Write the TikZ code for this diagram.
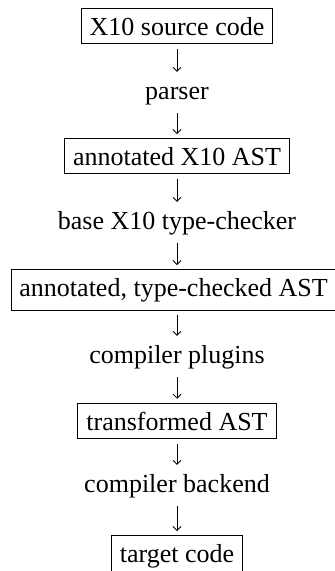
\documentclass[tikz,border=0pt]{standalone}
\usepackage{fontspec}
\setmainfont{Liberation Serif}
\usetikzlibrary{arrows.meta}
\begin{document}
\begin{tikzpicture}[x=1pt,y=1pt,
  stage/.style={draw, line width=0.9pt, inner sep=8.5pt,
    font=\fontsize{26}{30}\selectfont, anchor=base},
  pass/.style={inner sep=0pt, text height=18pt, text depth=6pt,
    font=\fontsize{26}{30}\selectfont, anchor=base},
  flow/.style={line width=0.75pt, -{Straight Barb[length=4pt,width=8pt]}},
  down/.style={flow, shorten <=4.5pt, shorten >=9pt},
  into/.style={flow, shorten <=8pt, shorten >=4pt}]
\useasboundingbox (0,0) rectangle (335,-571);
\clip (0,0) rectangle (335,-571);

% compilation stages (boxed) and the passes between them
\node[stage] (src)  at (177,-35)  {X10 source code};
\node[pass]  (parser) at (177,-99) {parser};
\node[stage] (ast)  at (177,-165) {annotated X10 AST};
\node[pass]  (tc)   at (177,-229) {base X10 type-checker};
\node[stage, anchor=base west] (tast) at (10.5,-296) {annotated, type-checked AST};
\node[pass]  (plug) at (177,-363) {compiler plugins};
\node[stage] (xast) at (177,-430) {transformed AST};
\node[pass]  (back) at (177,-492) {compiler backend};
\node[stage] (tgt)  at (177,-562) {target code};

% downward flow
\draw[down] (src.south)  -- (parser.north);
\draw[into] (parser.south) -- (ast.north);
\draw[down] (ast.south)  -- (tc.north);
\draw[into] (tc.south)   -- (tc.south |- tast.north);
\draw[down] (tast.south -| plug.north) -- (plug.north);
\draw[into] (plug.south) -- (xast.north);
\draw[down] (xast.south) -- (back.north);
\draw[into] (back.south) -- (tgt.north);
\end{tikzpicture}
\end{document}
